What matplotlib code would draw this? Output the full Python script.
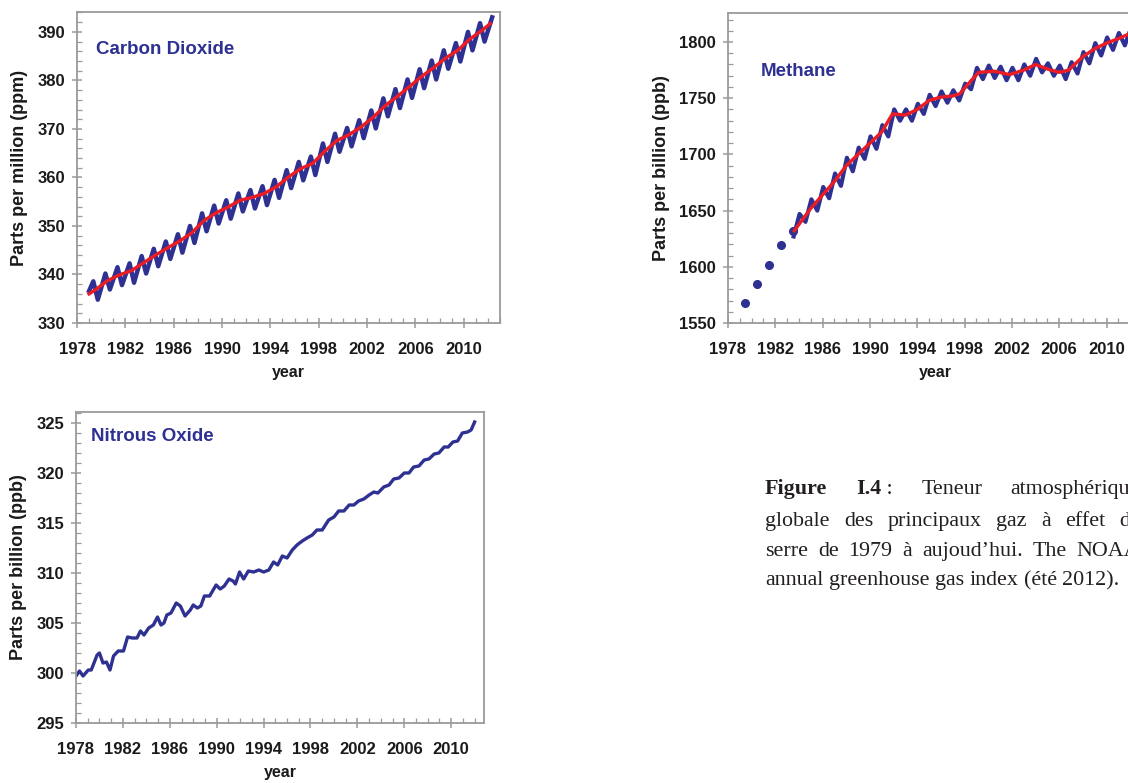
import matplotlib
matplotlib.use("Agg")
import matplotlib.pyplot as plt
from matplotlib.ticker import MultipleLocator

# ---- data ----
# carbon dioxide, ppm: seasonal maxima (spring) and minima (late summer) per year
co2_start = (1979.0, 336.6)
co2_peak_years = list(range(1979, 2013))
co2_peak = [338.6, 340.2, 341.5, 342.3, 343.8, 345.3, 346.8, 348.3, 350.0, 352.6,
            354.2, 355.3, 356.7, 357.4, 358.2, 359.5, 361.5, 363.2, 364.3, 367.0,
            369.0, 370.2, 371.8, 373.8, 376.3, 378.2, 380.2, 382.3, 384.1, 386.2,
            387.7, 390.0, 391.8, 393.0]
co2_trough_years = list(range(1979, 2012))
co2_trough = [334.8, 336.9, 337.8, 338.3, 340.2, 341.7, 343.2, 344.5, 346.5, 348.9,
              350.5, 351.5, 353.0, 353.6, 354.3, 355.8, 357.8, 359.4, 360.5, 363.2,
              365.3, 366.4, 368.1, 370.1, 372.6, 374.3, 376.4, 378.4, 380.2, 382.4,
              383.9, 386.2, 388.0]
# de-seasonalised trend (red)
co2_trend_x = [1979.0] + [y + 0.5 for y in range(1979, 2012)] + [2012.2]
co2_trend = [336.0, 336.8, 338.7, 339.9, 340.8, 342.4, 344.0, 345.5, 346.9, 348.6,
             351.1, 352.7, 353.9, 355.3, 355.9, 356.7, 358.1, 360.1, 361.8, 362.9,
             365.4, 367.6, 368.8, 370.4, 372.4, 374.8, 376.7, 378.7, 380.8, 382.6,
             384.6, 386.2, 388.5, 390.3, 391.7]

# methane, ppb
ch4_dot_years = [1979.45, 1980.45, 1981.5, 1982.5, 1983.5]
ch4_dots = [1568, 1585, 1602, 1619, 1632]
ch4_peak_years = list(range(1984, 2013))
ch4_peak = [1647, 1660, 1671, 1683, 1697, 1706, 1716, 1726, 1740, 1740,
            1745, 1753, 1756, 1757, 1763, 1777, 1779, 1778, 1777, 1780,
            1785, 1781, 1779, 1782, 1791, 1799, 1804, 1808, 1812]
ch4_trough_years = list(range(1983, 2012))
ch4_trough = [1627, 1640, 1650, 1661, 1672, 1685, 1696, 1705, 1716, 1730,
              1730, 1736, 1743, 1746, 1748, 1758, 1767, 1768, 1766, 1766,
              1770, 1773, 1770, 1767, 1772, 1781, 1788, 1793, 1797]
ch4_trend_x = [1983.6, 1985.0, 1986.0, 1987.0, 1988.0, 1989.0, 1990.0, 1991.0, 1991.9,
               1993.0, 1994.0, 1995.0, 1996.0, 1997.0, 1997.6, 1998.5, 1999.2, 2000.5,
               2001.8, 2003.0, 2004.0, 2005.0, 2006.0, 2006.8, 2008.0, 2009.0, 2010.0,
               2011.0, 2012.3]
ch4_trend = [1632, 1652, 1664, 1676, 1690, 1700, 1710, 1720, 1736,
             1735, 1740, 1748, 1751, 1752, 1754, 1765, 1773, 1774,
             1771, 1775, 1780, 1776, 1773, 1775, 1787, 1794, 1799,
             1803, 1809]

# nitrous oxide, ppb
n2o_x = [1978.0, 1978.3, 1978.6, 1979.05, 1979.3, 1979.8, 1980.0, 1980.3, 1980.6, 1980.9,
         1981.2, 1981.6, 1982.05, 1982.4, 1982.8, 1983.2, 1983.5, 1983.8, 1984.2, 1984.6,
         1984.95, 1985.25, 1985.5, 1985.75, 1986.1, 1986.55, 1986.9, 1987.3, 1987.75, 1988.0,
         1988.35, 1988.65, 1988.95, 1989.4, 1989.95, 1990.3, 1990.65, 1991.05, 1991.4, 1991.6,
         1991.95, 1992.3, 1992.7, 1993.15, 1993.6, 1994.0, 1994.45, 1994.85, 1995.2, 1995.6,
         1996.0, 1996.45, 1996.85, 1997.3, 1997.7, 1998.15, 1998.55, 1999.0, 1999.55, 2000.0,
         2000.4, 2000.85, 2001.3, 2001.7, 2002.1, 2002.55, 2003.0, 2003.4, 2003.75, 2004.25,
         2004.7, 2005.1, 2005.55, 2006.0, 2006.4, 2006.8, 2007.25, 2007.7, 2008.1, 2008.55,
         2008.95, 2009.4, 2009.75, 2010.15, 2010.55, 2010.95, 2011.4, 2011.7, 2012.0]
n2o = [299.7, 300.2, 299.7, 300.3, 300.3, 301.8, 302.0, 301.0, 301.1, 300.3,
       301.7, 302.2, 302.2, 303.6, 303.5, 303.5, 304.2, 303.8, 304.5, 304.8,
       305.6, 304.8, 305.0, 305.8, 306.0, 307.0, 306.7, 305.7, 306.3, 306.8,
       306.5, 306.7, 307.7, 307.7, 308.8, 308.4, 308.7, 309.4, 309.2, 308.9,
       310.1, 309.4, 310.2, 310.1, 310.3, 310.1, 310.3, 311.1, 310.8, 311.7,
       311.5, 312.3, 312.8, 313.2, 313.5, 313.8, 314.3, 314.3, 315.3, 315.6,
       316.2, 316.2, 316.8, 316.8, 317.2, 317.4, 317.8, 318.1, 318.0, 318.6,
       318.8, 319.4, 319.5, 320.0, 320.0, 320.6, 320.7, 321.3, 321.4, 321.9,
       322.0, 322.6, 322.6, 323.1, 323.2, 324.0, 324.1, 324.3, 325.1]

year_ticks = list(range(1978, 2011, 4))

caption_lines = [
    [[("Figure", "bold")], [("I.4", "bold"), (" :", "normal")], [("Teneur", "normal")],
     [("atmosphérique", "normal")]],
    [[(w, "normal")] for w in "globale des principaux gaz à effet de".split()],
    [[(w, "normal")] for w in "serre de 1979 à aujoud’hui. The NOAA".split()],
    [[(w, "normal")] for w in "annual greenhouse gas index (été 2012).".split()],
]

# ---- drawing ----
plt.rcParams["font.family"] = ["Liberation Sans", "DejaVu Sans"]
plt.rcParams["font.weight"] = "bold"

BLUE = "#2e3192"
RED = "#ec1c24"
GREY = "#9a9a9a"
INK = "#1a1a1a"
W, H = 1128, 783

fig = plt.figure(figsize=(W / 100, H / 100), dpi=100)


def axes_px(left, top, right, bottom):
    return fig.add_axes([left / W, 1 - bottom / H, (right - left) / W, (bottom - top) / H])


def style(ax, xlim, ylim, ymajor, yminor, ylabel, title, title_xy):
    ax.set_xlim(*xlim)
    ax.set_ylim(*ylim)
    ax.set_xticks(year_ticks)
    ax.xaxis.set_minor_locator(MultipleLocator(1))
    ax.yaxis.set_major_locator(MultipleLocator(ymajor))
    ax.yaxis.set_minor_locator(MultipleLocator(yminor))
    for s in ax.spines.values():
        s.set_color(GREY)
        s.set_linewidth(1.3)
    ax.tick_params(which="major", direction="inout", length=7, width=1.1, color=GREY,
                   labelsize=12, labelcolor=INK)
    ax.tick_params(which="minor", direction="in", length=3.5, width=0.9, color=GREY)
    ax.tick_params(axis="x", which="major", pad=10)
    ax.tick_params(axis="y", which="major", pad=5)
    ax.set_xlabel("year", fontsize=11.5, fontweight="bold", labelpad=6, color=INK)
    ax.set_ylabel(ylabel, fontsize=13, fontweight="bold", labelpad=7, color=INK)
    ax.text(title_xy[0], title_xy[1], title, transform=ax.transAxes, color=BLUE,
            fontsize=13.5, fontweight="bold", ha="left", va="center")


# carbon dioxide
ax1 = axes_px(77, 12, 500, 323)
pts = [co2_start] + sorted(
    [(y + 0.35, v) for y, v in zip(co2_peak_years, co2_peak)] +
    [(y + 0.72, v) for y, v in zip(co2_trough_years, co2_trough)])
ax1.plot([p[0] for p in pts], [p[1] for p in pts], color=BLUE, lw=3.2, solid_joinstyle="round")
ax1.plot(co2_trend_x, co2_trend, color=RED, lw=2.4)
style(ax1, (1978, 2013), (330, 394.1), 10, 2, "Parts per million (ppm)",
      "Carbon Dioxide", (0.045, 0.88))

# methane
ax2 = axes_px(728, 13, 1142, 323)
pts = sorted([(y + 0.05, v) for y, v in zip(ch4_peak_years, ch4_peak)] +
             [(y + 0.55, v) for y, v in zip(ch4_trough_years, ch4_trough)])
ax2.plot(ch4_dot_years, ch4_dots, "o", color=BLUE, ms=5.5)
ax2.plot([p[0] for p in pts], [p[1] for p in pts], color=BLUE, lw=3.0, solid_joinstyle="round")
ax2.plot(ch4_trend_x, ch4_trend, color=RED, lw=2.4)
style(ax2, (1978, 2013), (1550, 1825.8), 50, 10, "Parts per billion (ppb)",
      "Methane", (0.08, 0.81))

# nitrous oxide
ax3 = axes_px(76, 412, 484, 723)
ax3.plot(n2o_x, n2o, color=BLUE, lw=2.4, solid_joinstyle="round")
style(ax3, (1978, 2012.8), (295, 326.1), 5, 1, "Parts per billion (ppb)",
      "Nitrous Oxide", (0.037, 0.92))

# caption, justified between a left and right margin (right margin lies beyond the crop)
cap_left, cap_right = 765, 1140
cap_y = [487, 519, 549, 578]
cap_size = 15.8
fig.canvas.draw()
r = fig.canvas.get_renderer()


def word_width(word):
    w = 0
    for txt, wt in word:
        t = fig.text(0, 0, txt, fontsize=cap_size, fontweight=wt, family="Liberation Serif")
        w += t.get_window_extent(r).width
        t.remove()
    return w


for i, (line, y) in enumerate(zip(caption_lines, cap_y)):
    widths = [word_width(w) for w in line]
    space = word_width([("n", "normal")]) * 0.5
    if i < len(caption_lines) - 1:
        gap = (cap_right - cap_left - sum(widths)) / (len(line) - 1)
    else:
        gap = space
    x = cap_left
    for word, ww in zip(line, widths):
        xx = x
        for txt, wt in word:
            t = fig.text(xx / W, 1 - y / H, txt, fontsize=cap_size, fontweight=wt,
                         family="Liberation Serif", color="#231f20", va="center_baseline")
            xx += t.get_window_extent(r).width
        x += ww + gap

fig.savefig("out.png", dpi=100)
